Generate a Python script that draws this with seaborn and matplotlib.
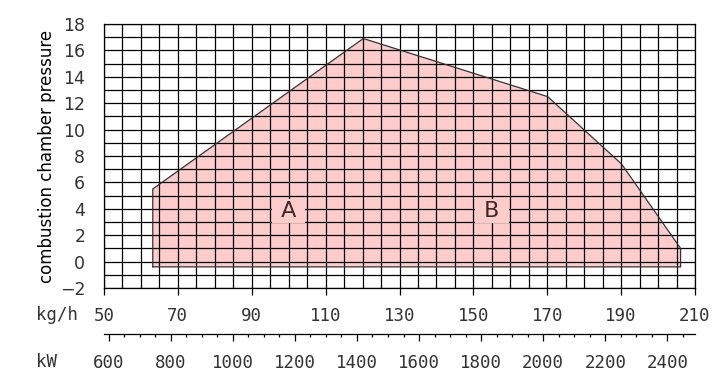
import numpy as np
import pandas as pd
import matplotlib
matplotlib.use("Agg")
import matplotlib.pyplot as plt
import seaborn as sns

# working field outline (kg/h, combustion chamber pressure)
flow_kgh = [63.2, 63.2, 120.2, 170.1, 190.1, 206.1, 206.1, 63.2]
pressure = [-0.4, 5.5, 16.9, 12.5, 7.4, 1.0, -0.4, -0.4]

# region labels
region_names = ["A", "B"]
region_kgh = [100.0, 155.0]
region_p = [3.8, 3.8]

# axis ticks
kgh_ticks = [50, 70, 90, 110, 130, 150, 170, 190, 210]
p_ticks = [-2, 0, 2, 4, 6, 8, 10, 12, 14, 16, 18]
kw_ticks = [600, 800, 1000, 1200, 1400, 1600, 1800, 2000, 2200, 2400]

# kg/h -> kW
KW_PER_KGH = 11.9
KW_OFFSET = -10.0

df = pd.DataFrame({"kgh": flow_kgh, "p": pressure})

sns.set_theme(style="white")
plt.rcParams["font.family"] = ["DejaVu Sans"]

fig = plt.figure(figsize=(7.27, 3.87), dpi=100)
W, H = 727, 387
ax = fig.add_axes([104 / W, 1 - 288 / H, 591 / W, 264 / H])

ax.fill(df["kgh"], df["p"], color="#ffcccc", zorder=0.3, lw=0)
sns.lineplot(data=df, x="kgh", y="p", sort=False, estimator=None,
             color="#333333", lw=0.9, ax=ax, zorder=2)

# letters with a pink patch that hides the grid behind them
for name, x, y in zip(region_names, region_kgh, region_p):
    ax.text(x, y, f" {name} ", fontsize=16, color="#3a2a2a", ha="center",
            va="center", zorder=3,
            bbox=dict(facecolor="#ffcccc", edgecolor="none", pad=1.5))

ax.set_xlim(50, 210)
ax.set_ylim(-2, 18)
ax.set_xticks(kgh_ticks)
ax.set_xticks(np.arange(50, 211, 5), minor=True)
ax.set_yticks(p_ticks)
ax.set_yticks(np.arange(-2, 19, 1), minor=True)
ax.set_axisbelow(True)
ax.grid(which="both", color="black", lw=0.9)
for s in ax.spines.values():
    s.set_color("black")
    s.set_linewidth(0.9)

ax.tick_params(axis="x", which="major", direction="out", length=5, width=0.9,
               color="black", pad=9, labelsize=12.5, labelcolor="#333333",
               bottom=True)
ax.tick_params(axis="x", which="minor", length=0)
ax.tick_params(axis="y", which="both", length=0, pad=13.5, labelsize=12.5,
               labelcolor="#333333")
for lab in ax.get_xticklabels():
    lab.set_family("DejaVu Sans Mono")
ax.set_xlabel("")
ax.set_ylabel("combustion chamber pressure", fontsize=12, color="black",
              labelpad=3)

sec = ax.secondary_xaxis(-0.175, functions=(lambda m: m * KW_PER_KGH + KW_OFFSET,
                                            lambda k: (k - KW_OFFSET) / KW_PER_KGH))
sec.set_xticks(kw_ticks)
sec.set_xticks(np.arange(600, 2490, 50), minor=True)
sec.spines["bottom"].set_color("black")
sec.spines["bottom"].set_linewidth(0.9)
sec.tick_params(which="major", direction="out", length=5, width=0.9,
                color="black", pad=9.5, labelsize=12.5, labelcolor="#333333")
sec.tick_params(which="minor", direction="out", length=2.5, width=0.9,
                color="black")
for lab in sec.get_xticklabels():
    lab.set_family("DejaVu Sans Mono")

fig.text(36 / W, 1 - 315 / H, "kg/h", fontsize=12.5, family="DejaVu Sans Mono",
         color="#333333", va="center", ha="left")
fig.text(36 / W, 1 - 362 / H, "kW", fontsize=12.5, family="DejaVu Sans Mono",
         color="#333333", va="center", ha="left")

fig.savefig("out.png", dpi=100)
